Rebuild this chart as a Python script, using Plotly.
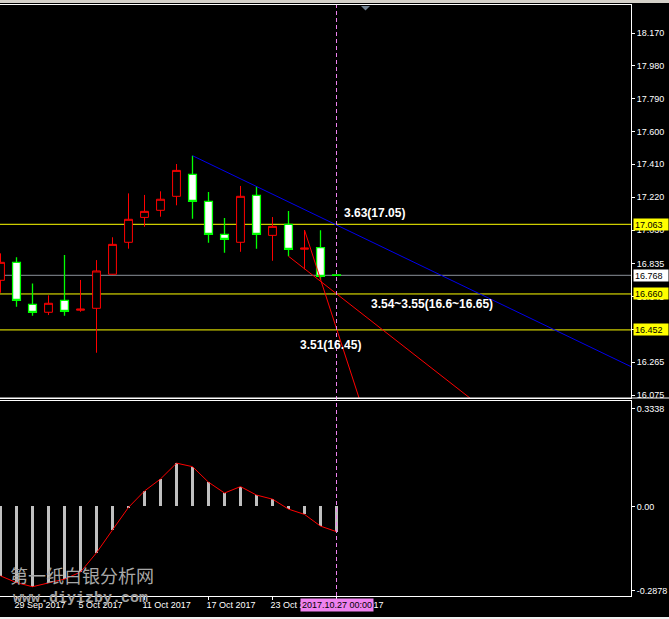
import plotly.graph_objects as go

# ---------------- data ----------------
bar_index = list(range(22))
bar_dates = ["28 Sep 2017", "29 Sep 2017", "2 Oct 2017", "3 Oct 2017", "4 Oct 2017", "5 Oct 2017",
             "6 Oct 2017", "9 Oct 2017", "10 Oct 2017", "11 Oct 2017", "12 Oct 2017", "13 Oct 2017",
             "16 Oct 2017", "17 Oct 2017", "18 Oct 2017", "19 Oct 2017", "20 Oct 2017", "23 Oct 2017",
             "24 Oct 2017", "25 Oct 2017", "26 Oct 2017", "27 Oct 2017"]

opens  = [16.739, 16.843, 16.600, 16.554, 16.623, 16.566, 16.577, 16.774, 16.959, 17.103, 17.144,
          17.225, 17.352, 17.196, 17.005, 16.959, 17.231, 16.999, 17.063, 16.919, 16.928, 16.770]
highs  = [16.895, 16.872, 16.721, 16.652, 16.885, 16.741, 16.856, 16.988, 17.242, 17.233, 17.254,
          17.412, 17.460, 17.250, 17.099, 17.285, 17.285, 17.105, 17.140, 17.030, 17.028, 16.772]
lows   = [16.667, 16.586, 16.534, 16.538, 16.534, 16.557, 16.320, 16.772, 16.922, 17.049, 17.107,
          17.173, 17.095, 16.956, 16.899, 16.904, 16.922, 16.852, 16.878, 16.803, 16.741, 16.766]
closes = [16.843, 16.623, 16.554, 16.606, 16.559, 16.572, 16.793, 16.947, 17.092, 17.138, 17.208,
          17.375, 17.196, 17.005, 16.976, 17.225, 17.005, 17.051, 16.918, 16.925, 16.762, 16.768]

macd_values = [-0.237, -0.260, -0.274, -0.261, -0.248, -0.224, -0.158, -0.080, -0.003, 0.053, 0.094,
               0.148, 0.136, 0.083, 0.046, 0.068, 0.039, 0.025, -0.009, -0.027, -0.067, -0.086]

price_ticks = [18.170, 17.980, 17.790, 17.600, 17.410, 17.220, 17.030, 16.835, 16.645, 16.455, 16.265, 16.075]
macd_ticks = [0.3338, 0.0, -0.2878]
macd_tick_text = ["0.3338", "0.00", "-0.2878"]

date_tick_bars = [1, 5, 9, 13, 17, 21]

level_lines = [17.063, 16.660, 16.452]
current_price = 16.768

blue_line_x = [12, 40]
blue_line_y = [17.460, 16.213]
red_line_a_x = [18, 30]
red_line_a_y = [16.878, 16.010]
red_line_b_x = [19, 23]
red_line_b_y = [17.030, 15.890]

notes = ["3.63(17.05)", "3.54~3.55(16.6~16.65)", "3.51(16.45)"]
note_x = [21.33, 23.0, 18.62]
note_y = [17.130, 16.602, 16.364]

cursor_bar = 21
cursor_label = "2017.10.27 00:00"

# ---------------- figure ----------------
W, H = 669, 619
ML, MR, MT, MB = 0, 38, 5, 23
PH = H - MT - MB  # 591

main_dom = [(596 - 398) / PH, 1.0]
sub_dom = [0.0, (596 - 401) / PH]
x_range = [-0.03125, 39.40625]

fig = go.Figure()

fig.add_trace(go.Candlestick(
    x=bar_index, open=opens, high=highs, low=lows, close=closes,
    increasing=dict(line=dict(color="#ff0000", width=1), fillcolor="#000000"),
    decreasing=dict(line=dict(color="#00ff00", width=1.3), fillcolor="#ffffff"),
    whiskerwidth=0, xaxis="x", yaxis="y", showlegend=False, hoverinfo="skip"))

# horizontal levels
for lv in level_lines:
    fig.add_shape(type="line", xref="x domain", yref="y", x0=0, x1=1, y0=lv, y1=lv,
                  line=dict(color="#ffff00", width=1), layer="below")
fig.add_shape(type="line", xref="x domain", yref="y", x0=0, x1=1, y0=current_price, y1=current_price,
              line=dict(color="#8a9099", width=1), layer="below")

# trend lines
fig.add_trace(go.Scatter(x=blue_line_x, y=blue_line_y, mode="lines", line=dict(color="#0000ee", width=1),
                         xaxis="x", yaxis="y", showlegend=False, hoverinfo="skip"))
fig.add_trace(go.Scatter(x=red_line_a_x, y=red_line_a_y, mode="lines", line=dict(color="#ff0000", width=1),
                         xaxis="x", yaxis="y", showlegend=False, hoverinfo="skip"))
fig.add_trace(go.Scatter(x=red_line_b_x, y=red_line_b_y, mode="lines", line=dict(color="#ff0000", width=1),
                         xaxis="x", yaxis="y", showlegend=False, hoverinfo="skip"))

# MACD panel
fig.add_trace(go.Bar(x=bar_index, y=macd_values, width=0.22, marker=dict(color="#c0c0c0", line=dict(width=0)),
                     xaxis="x2", yaxis="y2", showlegend=False, hoverinfo="skip"))
fig.add_trace(go.Scatter(x=bar_index, y=macd_values, mode="lines", line=dict(color="#ff0000", width=1),
                         xaxis="x2", yaxis="y2", showlegend=False, hoverinfo="skip"))

axis_font = dict(family="Liberation Sans, Arial, sans-serif", size=9, color="#ffffff")

fig.update_layout(
    width=W, height=H,
    margin=dict(l=ML, r=MR, t=MT, b=MB, pad=0),
    paper_bgcolor="#000000", plot_bgcolor="#000000",
    showlegend=False, bargap=0,
    xaxis=dict(domain=[0, 1], anchor="y", range=x_range, showticklabels=False, ticks="",
               showline=True, mirror=True, linecolor="#ffffff", linewidth=1,
               showgrid=False, zeroline=False, rangeslider=dict(visible=False), fixedrange=True),
    yaxis=dict(domain=main_dom, anchor="x", side="right", range=[16.058, 18.332],
               tickvals=price_ticks, ticktext=[f"{v:.3f}" for v in price_ticks],
               ticks="outside", ticklen=3, tickcolor="#ffffff", tickfont=axis_font,
               showline=True, linecolor="#ffffff", linewidth=1,
               showgrid=False, zeroline=False, fixedrange=True),
    xaxis2=dict(domain=[0, 1], anchor="y2", range=x_range,
                tickvals=date_tick_bars, ticktext=[bar_dates[i] for i in date_tick_bars],
                ticks="outside", ticklen=3, tickcolor="#ffffff", tickfont=axis_font,
                ticklabelposition="outside right", ticklabelshift=-3,
                showline=True, mirror=True, linecolor="#ffffff", linewidth=1,
                showgrid=False, zeroline=False, fixedrange=True),
    yaxis2=dict(domain=sub_dom, anchor="x2", side="right", range=[-0.3057, 0.3603],
                tickvals=macd_ticks, ticktext=macd_tick_text,
                ticks="outside", ticklen=3, tickcolor="#ffffff", tickfont=axis_font,
                showline=True, linecolor="#ffffff", linewidth=1,
                showgrid=False, zeroline=False, fixedrange=True),
)

# cursor / period line
fig.add_shape(type="line", xref="x", yref="paper", x0=cursor_bar, x1=cursor_bar, y0=0, y1=1,
              line=dict(color="#ee82ee", width=1, dash="4px,3px"))

# window decorations
fig.add_shape(type="rect", xref="paper", yref="paper", x0=0, x1=W / (W - MR) + 0.01,
              y0=(596 - 3) / PH, y1=(596 + 5) / PH, fillcolor="#d4d0c8", line=dict(width=0))
fig.add_shape(type="line", xref="paper", yref="paper", x0=0, x1=W / (W - MR) + 0.01,
              y0=main_dom[0], y1=main_dom[0], line=dict(color="#ffffff", width=1))
fig.add_shape(type="rect", xref="paper", yref="paper", x0=0, x1=W / (W - MR) + 0.01,
              y0=(596 - 619 - 3) / PH, y1=(596 - 617) / PH, fillcolor="#f0f0f0", line=dict(width=0))
fig.add_shape(type="path", xref="paper", yref="paper",
              path=f"M {361/631},{(596-6)/PH} L {370/631},{(596-6)/PH} L {365.5/631},{(596-10.5)/PH} Z",
              fillcolor="#708090", line=dict(width=0))

# price labels on axis
for lv in level_lines:
    fig.add_annotation(x=1, xref="paper", y=lv, yref="y", xanchor="left", xshift=2,
                       text=f"{lv:.3f}", showarrow=False, bgcolor="#ffff00",
                       font=dict(family="Liberation Sans, Arial, sans-serif", size=9, color="#000000"),
                       width=32, height=9, align="left", borderpad=1)
fig.add_annotation(x=1, xref="paper", y=current_price, yref="y", xanchor="left", xshift=2,
                   text=f"{current_price:.3f}", showarrow=False, bgcolor="#ffffff",
                   font=dict(family="Liberation Sans, Arial, sans-serif", size=9, color="#000000"),
                   width=32, height=9, align="left", borderpad=1)

# notes
for t, nx, ny in zip(notes, note_x, note_y):
    fig.add_annotation(x=nx, y=ny, xref="x", yref="y", xanchor="left", yanchor="middle",
                       text=f"<b>{t}</b>", showarrow=False,
                       font=dict(family="Liberation Sans, Arial, sans-serif", size=12, color="#ffffff"))

# watermark
fig.add_annotation(x=8 / 631, y=(596 - 575) / PH, xref="paper", yref="paper", xanchor="left", yanchor="middle",
                   text="第一纸白银分析网", showarrow=False,
                   font=dict(family="Noto Sans CJK SC", size=18, color="#a8a8a8"))
fig.add_annotation(x=11 / 631, y=(596 - 598) / PH, xref="paper", yref="paper", xanchor="left", yanchor="middle",
                   text="<b>www.diyizby.com</b>", showarrow=False,
                   font=dict(family="Liberation Mono, Courier New, monospace", size=15, color="#a0a0a0"))

# cursor date label
fig.add_annotation(x=cursor_bar, xref="x", y=(596 - 605) / PH, yref="paper", xanchor="center", yanchor="middle",
                   text=cursor_label, showarrow=False, bgcolor="#ee82ee",
                   font=dict(family="Liberation Sans, Arial, sans-serif", size=9, color="#000000"),
                   borderpad=1)

fig.write_html("out.html", config={"displayModeBar": False},
               post_script="document.body.style.margin='0';document.body.style.padding='0';"
                           "document.documentElement.style.overflow='hidden';")
